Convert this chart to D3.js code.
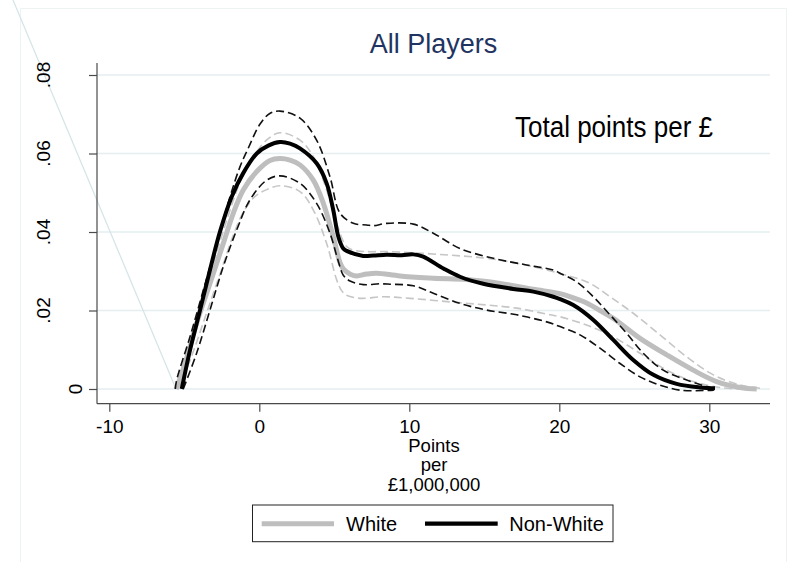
<!DOCTYPE html>
<html>
<head>
<meta charset="utf-8">
<script src="https://cdn.jsdelivr.net/npm/d3@7"></script>
<style>
  body { margin: 0; background: #fff; }
  svg { display: block; }
  text { font-family: "Liberation Sans", Arial, Helvetica, sans-serif; }
</style>
</head>
<body>
<svg id="chart" width="792" height="562"></svg>
<script>
// ---- Data: kernel density of points per £1,000,000, with 95% bands ----
const chartTitle = "All Players";
const noteText = "Total points per £";
const xTitleLines = ["Points", "per", "£1,000,000"];
const xTicks = [-10, 0, 10, 20, 30];
const xTickLabels = ["-10", "0", "10", "20", "30"];
const yTicks = [0, 0.02, 0.04, 0.06, 0.08];
const yTickLabels = ["0", ".02", ".04", ".06", ".08"];
const seriesNames = ["White", "Non-White"];

// White players: density estimate [x, density]
const whiteDensity = [
  [-5.55, 0], [-5.4, 0.0015], [-4.95, 0.0065], [-4.18, 0.0167], [-3.29, 0.0269],
  [-2.4, 0.0371], [-1.73, 0.0448], [-1.07, 0.0507], [-0.17, 0.0554], [0.71, 0.0582],
  [1.38, 0.0587], [2.05, 0.0583], [2.71, 0.0571], [3.6, 0.0532], [4.27, 0.0473],
  [4.93, 0.0388], [5.38, 0.0322], [5.6, 0.0306], [6.1, 0.0292], [6.49, 0.0288],
  [7.16, 0.0293], [7.82, 0.0295], [9.38, 0.0288], [11.6, 0.0282], [13.82, 0.0279],
  [16.05, 0.0269], [18.27, 0.0254], [20.05, 0.0243], [20.93, 0.0232], [21.82, 0.0219],
  [22.71, 0.0200], [23.6, 0.0180], [25.38, 0.0129], [27.16, 0.0087], [28.93, 0.0048],
  [30.49, 0.0019], [32.05, 0.0004], [33.16, 0]
];
const whiteUpper = [
  [-5.6, 0], [-4.7, 0.011], [-3.8, 0.0225], [-2.9, 0.034], [-2.0, 0.045],
  [-1.2, 0.0535], [-0.3, 0.0598], [0.6, 0.0638], [1.38, 0.0653], [2.71, 0.0634],
  [3.6, 0.0592], [4.49, 0.0507], [5.16, 0.0422], [5.82, 0.0363], [6.5, 0.0352],
  [7.16, 0.0350], [8.49, 0.0350], [10.27, 0.0347], [12.71, 0.0341], [15.16, 0.0333],
  [17.5, 0.0318], [20.05, 0.0294], [22.0, 0.0270], [23.38, 0.0235], [24.93, 0.0193],
  [26.71, 0.0138], [28.49, 0.0082], [30.27, 0.0036], [32.05, 0.0010], [33.38, 0.0002]
];
const whiteLower = [
  [-5.4, 0], [-4.5, 0.0085], [-3.5, 0.0195], [-2.6, 0.0295], [-1.8, 0.0385],
  [-1.07, 0.0450], [-0.3, 0.0490], [0.49, 0.0508], [1.38, 0.0518], [2.71, 0.0503],
  [3.6, 0.0456], [4.49, 0.0371], [5.16, 0.0278], [5.5, 0.0250], [5.82, 0.0239],
  [6.71, 0.0231], [8.27, 0.0235], [10.05, 0.0231], [12.71, 0.0222], [15.16, 0.0214],
  [17.16, 0.0206], [19.38, 0.0189], [20.05, 0.0184], [21.82, 0.0163], [23.6, 0.0133],
  [25.38, 0.0091], [27.16, 0.0048], [28.93, 0.0019], [30.71, 0.0004], [32.05, 0]
];

// Non-white players
const nonWhiteDensity = [
  [-5.17, 0], [-4.62, 0.0099], [-3.95, 0.0201], [-3.29, 0.0303], [-2.62, 0.0401],
  [-1.84, 0.0490], [-1.07, 0.0550], [-0.17, 0.0600], [0.6, 0.0620], [1.38, 0.0629],
  [2.05, 0.0625], [2.71, 0.0613], [3.82, 0.0575], [4.49, 0.0524], [4.93, 0.0456],
  [5.27, 0.0388], [5.6, 0.0358], [5.82, 0.0352], [6.93, 0.0339], [7.6, 0.0340],
  [8.49, 0.0342], [9.5, 0.0341], [10.27, 0.0343], [10.93, 0.0337], [12.27, 0.0307],
  [13.38, 0.0286], [14.93, 0.0268], [16.93, 0.0255], [18.27, 0.0248], [19.6, 0.0235],
  [20.05, 0.0229], [20.93, 0.0214], [22.27, 0.0176], [23.6, 0.0125], [24.93, 0.0074],
  [26.27, 0.0036], [27.82, 0.0013], [29.38, 0.0004], [30.38, 0.0002]
];
const nonWhiteUpper = [
  [-5.6, 0], [-5.51, 0.0023], [-4.62, 0.0133], [-3.73, 0.0252], [-2.84, 0.0371],
  [-1.95, 0.0490], [-1.29, 0.0566], [-0.79, 0.0609], [0.05, 0.0675], [0.7, 0.0702],
  [1.38, 0.0708], [2.71, 0.0690], [3.82, 0.0634], [4.71, 0.0541], [5.38, 0.0448],
  [6.27, 0.0422], [7.16, 0.0418], [7.6, 0.0416], [8.49, 0.0422], [10.27, 0.0420],
  [11.6, 0.0397], [13.38, 0.0358], [15.6, 0.0333], [17.82, 0.0316], [19.6, 0.0303],
  [20.05, 0.0295], [21.16, 0.0273], [22.27, 0.0235], [23.38, 0.0189], [24.49, 0.0142],
  [25.6, 0.0091], [26.93, 0.0048], [28.49, 0.0023], [29.82, 0.0006], [30.3, 0.0002]
];
const nonWhiteLower = [
  [-5.07, 0], [-4.18, 0.0091], [-3.29, 0.0201], [-2.4, 0.0312], [-1.51, 0.0405],
  [-0.62, 0.0482], [0.49, 0.0532], [1.38, 0.0543], [2.71, 0.0524], [3.82, 0.0473],
  [4.71, 0.0397], [5.27, 0.0325], [5.6, 0.0290], [6.05, 0.0275], [6.93, 0.0266],
  [8.04, 0.0268], [8.71, 0.0267], [10.27, 0.0263], [11.6, 0.0244], [13.38, 0.0218],
  [15.16, 0.0201], [17.16, 0.0189], [19.16, 0.0171], [20.05, 0.0159], [21.38, 0.0138],
  [22.71, 0.0104], [24.05, 0.0065], [25.38, 0.0031], [26.71, 0.0010], [28.05, -0.0003],
  [29.6, -0.0004], [30.3, -0.0003]
];

// Stray connector segment running in from the upper left
const strayLine = [[-16.42, 0.0991], [-5.55, 0]];

// ---- Layout ----
const svg = d3.select("#chart");
const plotLeft = 97, plotRight = 770, plotTop = 63, axisY = 403.7;

const x = d3.scaleLinear().domain([-10, 30]).range([109.3, 709.3]);
const y = d3.scaleLinear().domain([0, 0.08]).range([389, 75]);

// outer graph-region frame (very faint)
svg.append("path")
  .attr("d", "M20.5,562 L20.5,8.5 L786.5,8.5 L786.5,562")
  .attr("fill", "none").attr("stroke", "#edf2f3").attr("stroke-width", 1);

// horizontal gridlines
svg.append("g").selectAll("line").data(yTicks).join("line")
  .attr("x1", plotLeft).attr("x2", plotRight)
  .attr("y1", d => y(d)).attr("y2", d => y(d))
  .attr("stroke", "#e5eef0").attr("stroke-width", 1.3);

// stray connector line
const lineGen = d3.line().x(d => x(d[0])).y(d => y(d[1]));
svg.append("path").attr("d", lineGen(strayLine))
  .attr("fill", "none").attr("stroke", "#d3e4e7").attr("stroke-width", 1.2);

// curves
const curveGen = d3.line()
  .x(d => x(d[0])).y(d => y(d[1]))
  .curve(d3.curveCatmullRom.alpha(0.5));

const g = svg.append("g");
function drawCurve(data, color, width, dash) {
  const p = g.append("path").attr("d", curveGen(data))
    .attr("fill", "none").attr("stroke", color).attr("stroke-width", width)
    .attr("stroke-linejoin", "round").attr("stroke-linecap", "butt");
  if (dash) p.attr("stroke-dasharray", dash);
  return p;
}
drawCurve(whiteUpper, "#c6c6c6", 1.6, "8,4");
drawCurve(whiteLower, "#c6c6c6", 1.6, "8,4");
drawCurve(whiteDensity, "#bebebe", 5, null);
drawCurve(nonWhiteUpper, "#111", 1.6, "8,4");
drawCurve(nonWhiteLower, "#111", 1.6, "8,4");
drawCurve(nonWhiteDensity, "#000", 4, null);

// axes lines
svg.append("line").attr("x1", plotLeft).attr("x2", plotLeft)
  .attr("y1", plotTop).attr("y2", axisY)
  .attr("stroke", "#4a4a4a").attr("stroke-width", 1.2);
svg.append("line").attr("x1", plotLeft).attr("x2", plotRight)
  .attr("y1", axisY).attr("y2", axisY)
  .attr("stroke", "#4a4a4a").attr("stroke-width", 1.2);

// x axis ticks and labels
const xAxis = d3.axisBottom(x).tickValues(xTicks).tickSize(8).tickSizeOuter(0)
  .tickFormat((d, i) => xTickLabels[i]);
const xg = svg.append("g").attr("transform", `translate(0,${axisY})`).call(xAxis);
xg.select(".domain").remove();
xg.selectAll(".tick line").attr("stroke", "#4a4a4a").attr("stroke-width", 1.2);
xg.selectAll(".tick text").attr("font-size", 19).attr("fill", "#000")
  .attr("dy", null).attr("y", 29.3);

// y axis ticks
const yAxis = d3.axisLeft(y).tickValues(yTicks).tickSize(8).tickSizeOuter(0).tickFormat("");
const yg = svg.append("g").attr("transform", `translate(${plotLeft},0)`).call(yAxis);
yg.select(".domain").remove();
yg.selectAll(".tick line").attr("stroke", "#4a4a4a").attr("stroke-width", 1.2);

// rotated y tick labels
yTicks.forEach((t, i) => {
  const tx = svg.append("text").text(yTickLabels[i])
    .attr("font-size", 19).attr("fill", "#000").attr("text-anchor", "middle");
  const w = tx.node().getComputedTextLength();
  const bx = 103 - 2 * w;
  tx.attr("transform", `translate(${bx},${y(t)}) rotate(-90)`);
});

// x axis title (three stacked lines)
const xt = svg.append("text").attr("text-anchor", "middle").attr("font-size", 18.5).attr("fill", "#000");
const xtBase = [451.5, 470.5, 490.5];
xTitleLines.forEach((s, i) => {
  xt.append("tspan").attr("x", 434).attr("y", xtBase[i]).text(s);
});

// title
svg.append("text").attr("x", 433.5).attr("y", 53).attr("text-anchor", "middle")
  .attr("font-size", 27).attr("fill", "#1f3461").text(chartTitle);

// note inside plot
svg.append("text").attr("x", 515).attr("y", 137)
  .attr("font-size", 30).attr("fill", "#000")
  .attr("textLength", 198).attr("lengthAdjust", "spacingAndGlyphs")
  .text(noteText);

// legend
const lg = svg.append("g");
lg.append("rect").attr("x", 252.5).attr("y", 505).attr("width", 360.5).attr("height", 36.7)
  .attr("fill", "#fff").attr("stroke", "#222").attr("stroke-width", 1);
const legendItems = [
  { name: seriesNames[0], color: "#bebebe", width: 5, x0: 261.7, x1: 334, tx: 346 },
  { name: seriesNames[1], color: "#000", width: 4.3, x0: 425, x1: 497.7, tx: 509.3 }
];
legendItems.forEach(it => {
  lg.append("line").attr("x1", it.x0).attr("x2", it.x1).attr("y1", 523.7).attr("y2", 523.7)
    .attr("stroke", it.color).attr("stroke-width", it.width);
  lg.append("text").attr("x", it.tx).attr("y", 531).attr("font-size", 20).attr("fill", "#000")
    .text(it.name);
});
</script>
</body>
</html>
